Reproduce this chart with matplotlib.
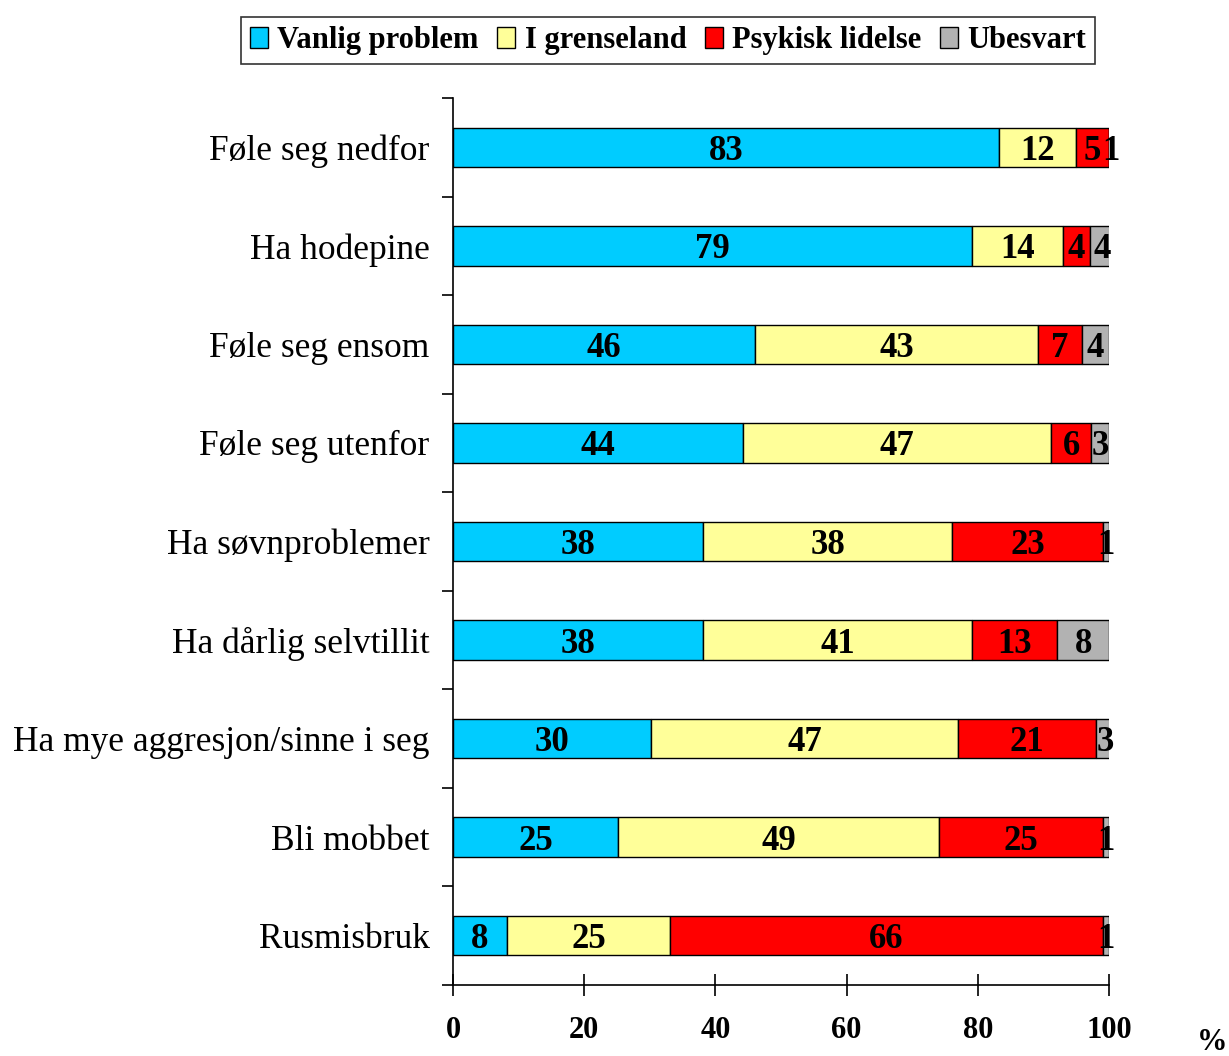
import numpy as np
import matplotlib
matplotlib.use("Agg")
import matplotlib.pyplot as plt
from matplotlib.ticker import FixedLocator

plt.rcParams['font.family'] = ['Liberation Serif', 'DejaVu Serif']

# Categories, top to bottom
categories = ['Føle seg nedfor', 'Ha hodepine', 'Føle seg ensom', 'Føle seg utenfor',
              'Ha søvnproblemer', 'Ha dårlig selvtillit', 'Ha mye aggresjon/sinne i seg',
              'Bli mobbet', 'Rusmisbruk']
series_names = ['Vanlig problem', 'I grenseland', 'Psykisk lidelse', 'Ubesvart']
colors = ['#00ccff', '#ffff99', '#ff0000', '#b2b2b2']

vanlig = [83.2, 79.1, 46.0, 44.2, 38.1, 38.1, 30.2, 25.2, 8.2]
grenseland = [11.8, 13.9, 43.2, 47.0, 38.0, 41.0, 46.8, 48.9, 24.9]
lidelse = [5.0, 4.1, 6.7, 6.1, 23.0, 13.0, 21.0, 25.0, 66.0]
ubesvart = [0.5, 3.7, 4.1, 2.7, 0.9, 7.9, 2.9, 0.9, 0.9]
series = [vanlig, grenseland, lidelse, ubesvart]

fig = plt.figure(figsize=(12.29, 10.56), dpi=100)
ax = fig.add_axes([453 / 1229, 1 - 985 / 1056, (1109 - 453) / 1229, (985 - 98) / 1056])

y = np.arange(len(categories))
left = np.zeros(len(categories))
for name, vals, col in zip(series_names, series, colors):
    vals = np.array(vals)
    ax.barh(y, vals, left=left, height=0.4, color=col, edgecolor='black',
            linewidth=1, label=name)
    for yi, l, v in zip(y, left, vals):
        ax.text(l + v / 2, yi, str(int(v + 0.5)), ha='center', va='center_baseline',
                fontsize=25, fontweight='bold', color='black')
    left += vals

ax.set_ylim(len(categories) - 0.5, -0.5)
ax.set_xlim(0, 100)
ax.set_yticks(y)
ax.set_yticklabels(categories, fontsize=25.5)
ax.yaxis.set_minor_locator(FixedLocator(np.arange(-0.5, len(categories), 1)))
ax.tick_params(axis='y', which='major', length=0, pad=17)
ax.tick_params(axis='y', which='minor', length=8, width=1.2, direction='out')

ax.set_xticks([0, 20, 40, 60, 80, 100])
ax.tick_params(axis='x', direction='inout', length=16, width=1.2, pad=14, labelsize=22)
for lab in ax.get_xticklabels():
    lab.set_fontweight('bold')

for s in ['top', 'right']:
    ax.spines[s].set_visible(False)
for s in ['left', 'bottom']:
    ax.spines[s].set_linewidth(1.2)

fig.text(1227 / 1229, 1 - 1043 / 1056, '%', fontsize=22, fontweight='bold',
         ha='right', va='center')

handles, labels = ax.get_legend_handles_labels()
leg = fig.legend(handles, labels, loc='upper center', bbox_to_anchor=(668 / 1229, 1 - 17 / 1056),
                 ncol=4, frameon=True, fancybox=False, edgecolor='black',
                 prop={'family': 'Liberation Serif', 'weight': 'bold', 'size': 22},
                 handlelength=0.6, handleheight=0.7, handletextpad=0.3,
                 columnspacing=0.6, borderpad=0.3, borderaxespad=0)
leg.get_frame().set_linewidth(1.2)

fig.savefig('out.png', dpi=100)
